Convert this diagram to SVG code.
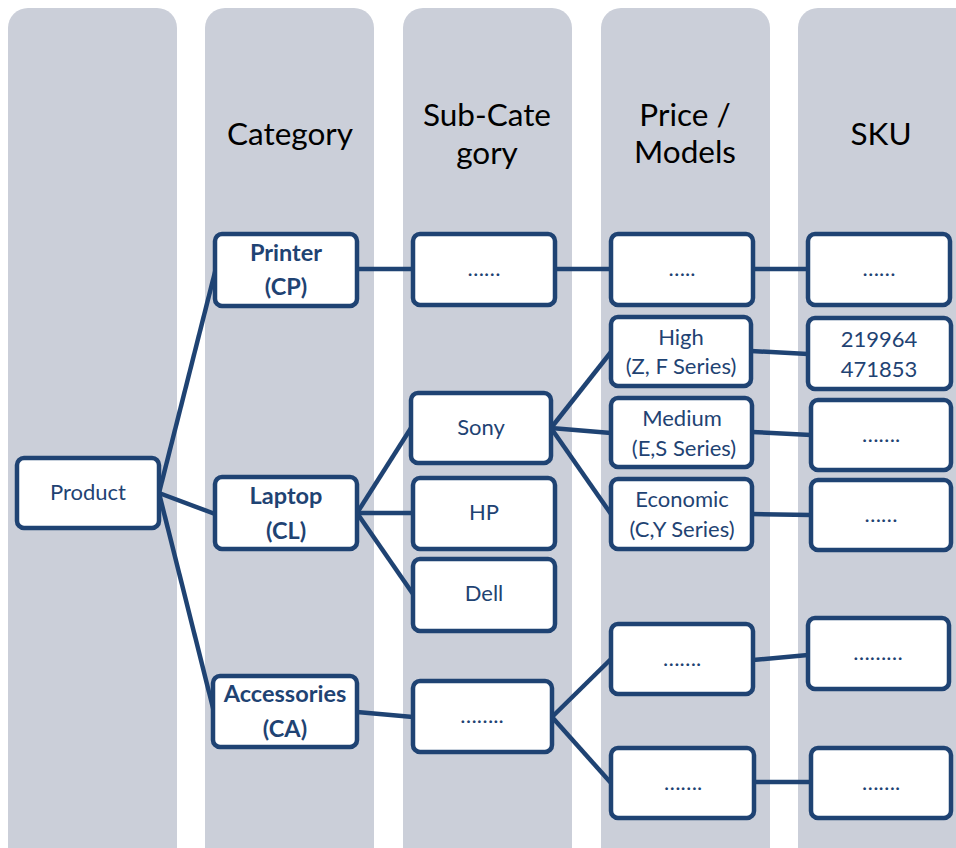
<svg xmlns="http://www.w3.org/2000/svg" width="956" height="848" viewBox="0 0 956 848">
<style>
.col{fill:#cbcfd9}
.hd{font-family:Lato,"Open Sans",sans-serif;font-size:31.5px;fill:#000;text-anchor:middle}
.box{fill:#fff;stroke:#1f4373;stroke-width:4.5}
.t{font-family:Lato,"Open Sans",sans-serif;font-size:22px;fill:#1f4373;text-anchor:middle}
.b{font-weight:bold;font-size:23.5px}
.ln{stroke:#1f4373;stroke-width:4.5;fill:none}
</style>
<rect width="956" height="848" fill="#fff"/>
<g id="columns">
<rect class="col" x="8" y="8" width="169" height="880" rx="20"/>
<rect class="col" x="205" y="8" width="169" height="880" rx="20"/>
<rect class="col" x="403" y="8" width="169" height="880" rx="20"/>
<rect class="col" x="601" y="8" width="169" height="880" rx="20"/>
<rect class="col" x="798" y="8" width="200" height="880" rx="20"/>
<text class="hd" x="290" y="145">Category</text>
<text class="hd" x="487" y="126">Sub-Cate</text>
<text class="hd" x="487" y="164">gory</text>
<text class="hd" x="685" y="126">Price /</text>
<text class="hd" x="685" y="163">Models</text>
<text class="hd" x="881" y="145">SKU</text>
</g>
<g id="connectors">
<line class="ln" x1="159" y1="493" x2="216" y2="268"/>
<line class="ln" x1="159" y1="493" x2="215" y2="514"/>
<line class="ln" x1="159" y1="493" x2="214" y2="712"/>
<line class="ln" x1="357" y1="269" x2="413" y2="269"/>
<line class="ln" x1="555" y1="269" x2="611" y2="269"/>
<line class="ln" x1="753" y1="269" x2="808" y2="269"/>
<line class="ln" x1="357" y1="513" x2="411" y2="428"/>
<line class="ln" x1="357" y1="513" x2="413" y2="513"/>
<line class="ln" x1="357" y1="513" x2="413" y2="594"/>
<line class="ln" x1="551" y1="428" x2="611" y2="352"/>
<line class="ln" x1="551" y1="428" x2="611" y2="433"/>
<line class="ln" x1="551" y1="428" x2="611" y2="514"/>
<line class="ln" x1="751" y1="351" x2="808" y2="354"/>
<line class="ln" x1="752" y1="432" x2="811" y2="435"/>
<line class="ln" x1="752" y1="514" x2="811" y2="515"/>
<line class="ln" x1="357" y1="712" x2="413" y2="717"/>
<line class="ln" x1="552" y1="717" x2="611" y2="659"/>
<line class="ln" x1="552" y1="717" x2="611" y2="783"/>
<line class="ln" x1="753" y1="660" x2="808" y2="655"/>
<line class="ln" x1="754" y1="782" x2="811" y2="782"/>
</g>
<g id="product"><rect class="box" x="17" y="458" width="142" height="70" rx="7"/><text class="t" x="88" y="500">Product</text></g>
<g id="printer"><rect class="box" x="215" y="234" width="142" height="72" rx="7"/><text class="t b" x="286" y="261">Printer</text><text class="t b" x="286" y="295">(CP)</text></g>
<g id="laptop"><rect class="box" x="215" y="477" width="142" height="72" rx="7"/><text class="t b" x="286" y="504">Laptop</text><text class="t b" x="286" y="539">(CL)</text></g>
<g id="accessories"><rect class="box" x="213" y="676" width="144" height="71" rx="7"/><text class="t b" x="285" y="702">Accessories</text><text class="t b" x="285" y="737">(CA)</text></g>
<g id="sub-printer"><rect class="box" x="413" y="234" width="142" height="71" rx="7"/><text class="t" x="484" y="276">……</text></g>
<g id="sony"><rect class="box" x="411" y="393" width="140" height="70" rx="7"/><text class="t" x="481" y="435">Sony</text></g>
<g id="hp"><rect class="box" x="413" y="478" width="142" height="71" rx="7"/><text class="t" x="484" y="520">HP</text></g>
<g id="dell"><rect class="box" x="413" y="559" width="142" height="72" rx="7"/><text class="t" x="484" y="601">Dell</text></g>
<g id="sub-acc"><rect class="box" x="413" y="681" width="139" height="71" rx="7"/><text class="t" x="482" y="723">……..</text></g>
<g id="price-printer"><rect class="box" x="611" y="234" width="142" height="71" rx="7"/><text class="t" x="682" y="276">…..</text></g>
<g id="high"><rect class="box" x="611" y="317" width="140" height="69" rx="7"/><text class="t" x="681" y="345">High</text><text class="t" x="681" y="374">(Z, F Series)</text></g>
<g id="medium"><rect class="box" x="611" y="398" width="141" height="69" rx="7"/><text class="t" x="682" y="426">Medium</text><text class="t" x="684" y="456">(E,S Series)</text></g>
<g id="economic"><rect class="box" x="611" y="479" width="141" height="70" rx="7"/><text class="t" x="682" y="507">Economic</text><text class="t" x="682" y="537">(C,Y Series)</text></g>
<g id="price-acc1"><rect class="box" x="611" y="624" width="142" height="70" rx="7"/><text class="t" x="682" y="666">…….</text></g>
<g id="price-acc2"><rect class="box" x="611" y="748" width="143" height="70" rx="7"/><text class="t" x="683" y="790">…….</text></g>
<g id="sku-printer"><rect class="box" x="808" y="234" width="142" height="71" rx="7"/><text class="t" x="879" y="276">……</text></g>
<g id="sku-high"><rect class="box" x="808" y="318" width="143" height="71" rx="7"/><text class="t" x="879" y="347">219964</text><text class="t" x="879" y="377">471853</text></g>
<g id="sku-medium"><rect class="box" x="811" y="400" width="140" height="70" rx="7"/><text class="t" x="881" y="442">…….</text></g>
<g id="sku-economic"><rect class="box" x="811" y="480" width="140" height="70" rx="7"/><text class="t" x="881" y="522">……</text></g>
<g id="sku-acc1"><rect class="box" x="808" y="618" width="141" height="71" rx="7"/><text class="t" x="878" y="660">………</text></g>
<g id="sku-acc2"><rect class="box" x="811" y="748" width="140" height="70" rx="7"/><text class="t" x="881" y="790">…….</text></g>
</svg>
